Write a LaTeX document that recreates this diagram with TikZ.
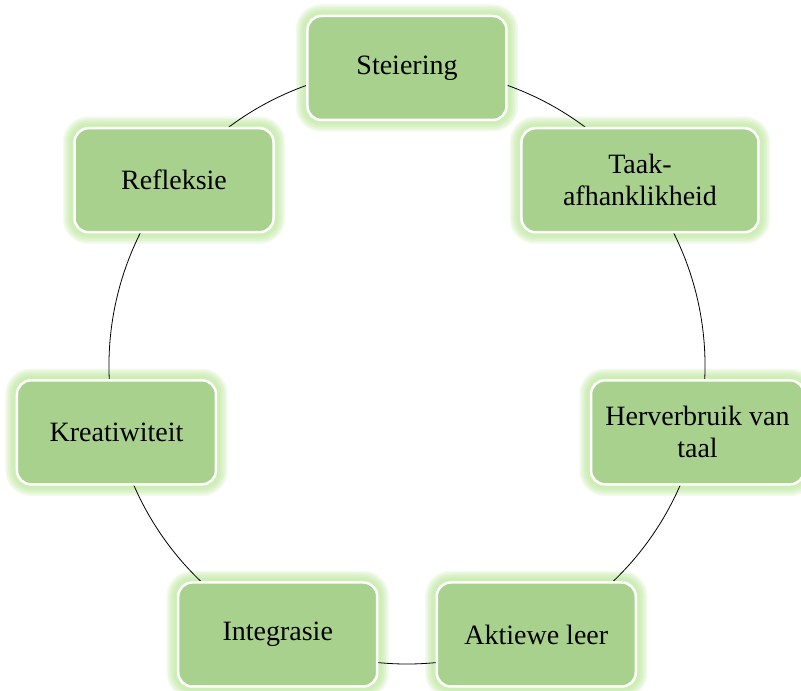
\documentclass[tikz,border=0pt]{standalone}
\usepackage{fontspec}
\setmainfont{Liberation Serif}
\definecolor{boxgreen}{RGB}{169,209,142}
\definecolor{glowgreen}{RGB}{176,226,138}
\pgfdeclarelayer{glow}
\pgfdeclarelayer{ring}
\pgfsetlayers{glow,ring,main}
\tikzset{
    cyclebox/.style={rounded corners=14pt, fill=boxgreen, draw=white, line width=2.5pt,
        minimum width=199pt, minimum height=104pt, align=center,
        font=\fontsize{28}{32}\selectfont},
    glowline/.style={draw=glowgreen, rounded corners=15pt, opacity=0.15},
    ringline/.style={draw=black, line width=0.8pt}
}
\begin{document}
\begin{tikzpicture}
    \useasboundingbox (-407pt,-325pt) rectangle (394pt,366pt);
    %% Boxes
    \foreach \ang/\nm/\bw/\txt in {90/st/199pt/Steiering, 38.57/ta/237pt/Taak-\\afhanklikheid,
        -12.86/hv/213pt/Herverbruik van\\taal, -64.29/al/199pt/Aktiewe leer,
        -115.71/ig/199pt/Integrasie, -167.14/kr/199pt/Kreatiwiteit, 141.43/rf/199pt/Refleksie}{
        \node[cyclebox, minimum width=\bw] (\nm) at (\ang:298pt) {\txt};
        %% Glow
        \begin{pgfonlayer}{glow}
            \foreach \gw in {21,18,15,12,9,6}
                \draw[glowline, line width=\gw pt] (\nm.north west) rectangle (\nm.south east);
        \end{pgfonlayer}
    }
    %% Ring
    \begin{pgfonlayer}{ring}
        \foreach \p/\q in {st/ta, ta/hv, hv/al, al/ig, ig/kr, kr/rf, rf/st}
            \draw[ringline] (\p.center) to[bend left=25.71, looseness=0.9] (\q.center);
    \end{pgfonlayer}
\end{tikzpicture}
\end{document}
